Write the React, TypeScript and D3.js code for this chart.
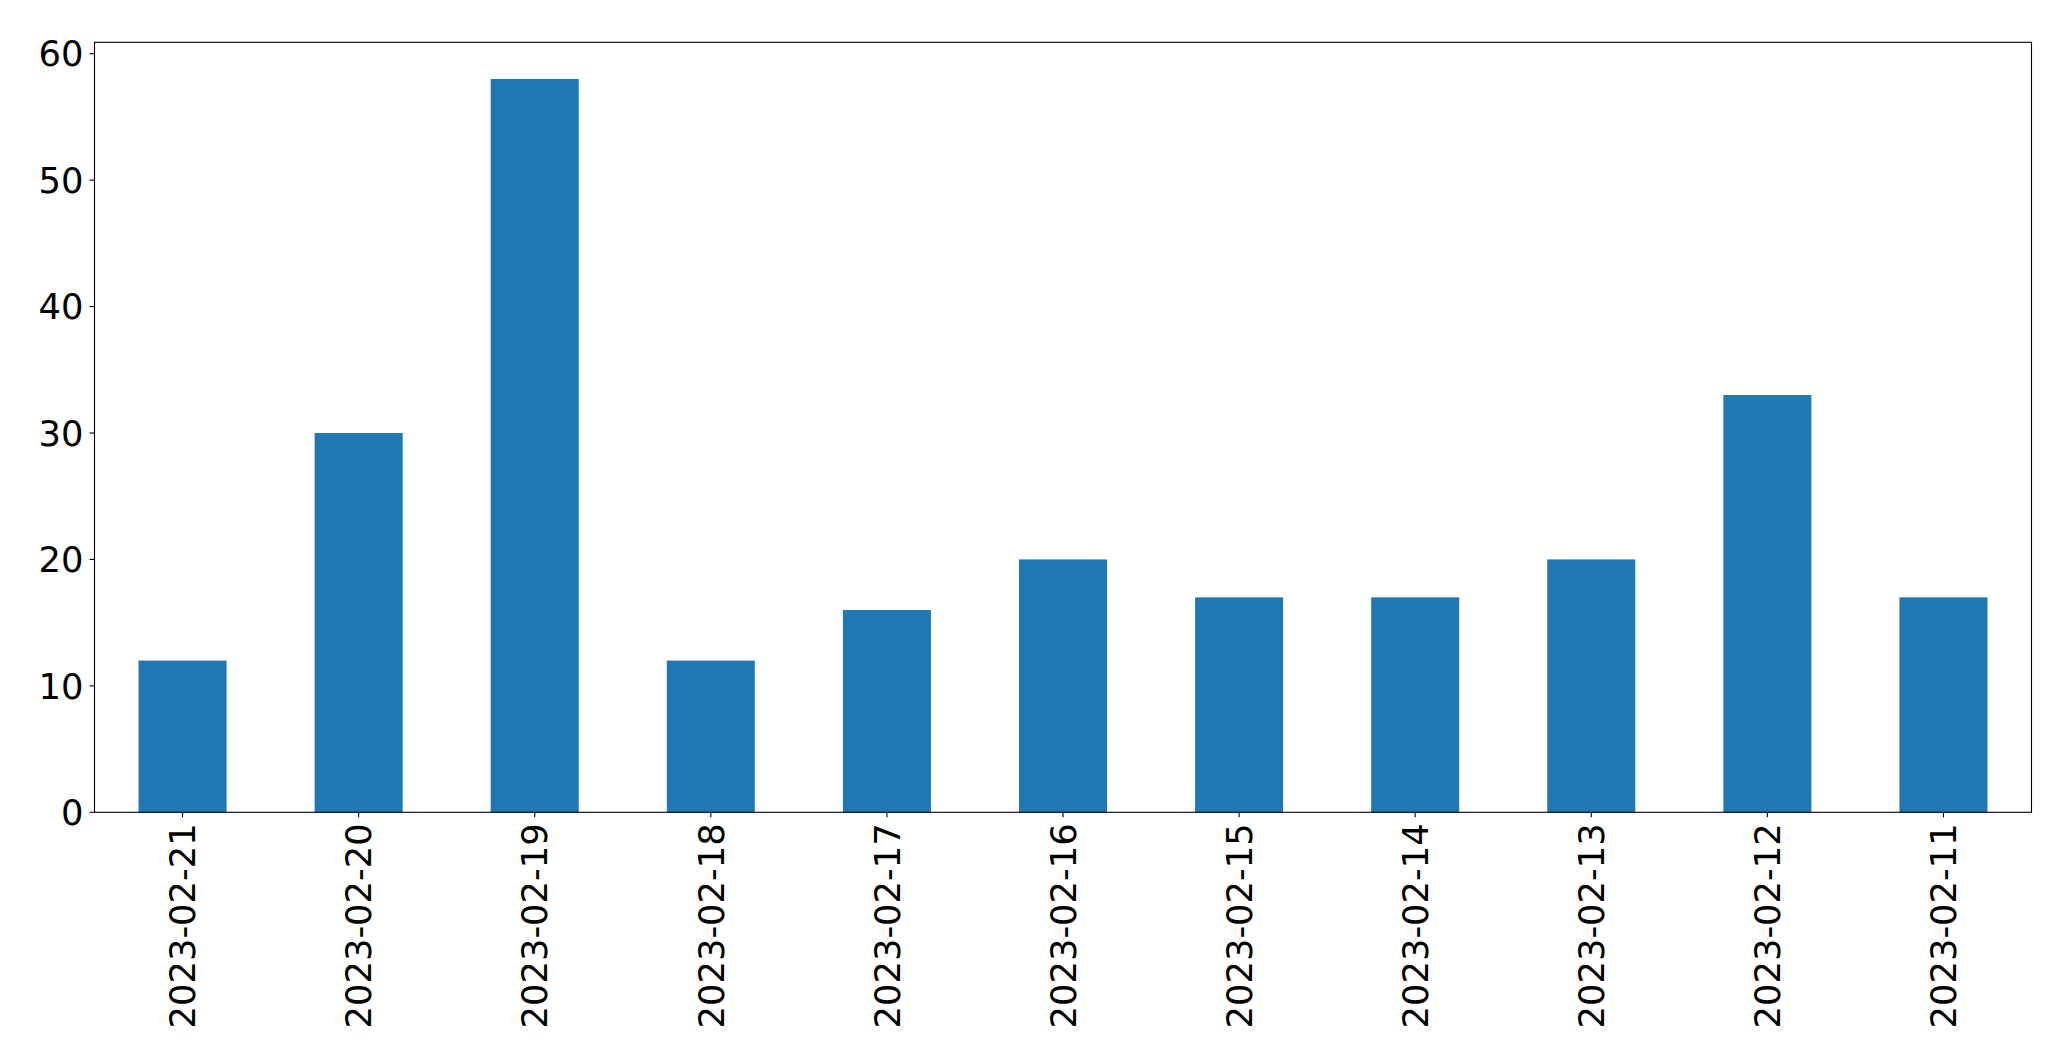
import React from "react";
import * as d3 from "d3";

const categories = [
  "2023-02-21", "2023-02-20", "2023-02-19", "2023-02-18", "2023-02-17", "2023-02-16",
  "2023-02-15", "2023-02-14", "2023-02-13", "2023-02-12", "2023-02-11",
];
const values = [12, 30, 58, 12, 16, 20, 17, 17, 20, 33, 17];
const yTicks = [0, 10, 20, 30, 40, 50, 60];

const W = 2071;
const H = 1064;
const M = { left: 94.5, right: 2031.5, top: 42.3, bottom: 812.3 };
const FONT = "'DejaVu Sans', sans-serif";
const FS = 35.3;

export default function App() {
  const x = d3
    .scaleBand<string>()
    .domain(categories)
    .range([M.left, M.right])
    .paddingInner(0.5)
    .paddingOuter(0.25);
  const yMax = d3.max(values)! * 1.05;
  const y = d3.scaleLinear().domain([0, yMax]).range([M.bottom, M.top]);
  const tick = 5;

  return (
    <svg
      width={W}
      height={H}
      style={{ position: "absolute", left: 0, top: 0, background: "#fff" }}
      fontFamily={FONT}
    >
      <rect x={0} y={0} width={W} height={H} fill="#fff" />
      {categories.map((c, i) => (
        <rect
          key={c}
          x={x(c)!}
          y={y(values[i])}
          width={x.bandwidth()}
          height={y(0) - y(values[i])}
          fill="#1f77b4"
        />
      ))}
      <rect
        x={M.left}
        y={M.top}
        width={M.right - M.left}
        height={M.bottom - M.top}
        fill="none"
        stroke="#000"
        strokeWidth={1.1}
      />
      {yTicks.map((t) => (
        <g key={t}>
          <line x1={M.left - tick} x2={M.left} y1={y(t)} y2={y(t)} stroke="#000" strokeWidth={1.1} />
          <text
            x={M.left - tick - 6}
            y={y(t)}
            dy="0.36em"
            textAnchor="end"
            fontSize={FS}
            fill="#000"
          >
            {t}
          </text>
        </g>
      ))}
      {categories.map((c) => {
        const cx = x(c)! + x.bandwidth() / 2;
        const ty = M.bottom + tick + 6;
        return (
          <g key={c}>
            <line x1={cx} x2={cx} y1={M.bottom} y2={M.bottom + tick} stroke="#000" strokeWidth={1.1} />
            <text
              transform={`translate(${cx},${ty}) rotate(-90)`}
              dy="0.36em"
              textAnchor="end"
              fontSize={FS}
              fill="#000"
            >
              {c}
            </text>
          </g>
        );
      })}
    </svg>
  );
}
